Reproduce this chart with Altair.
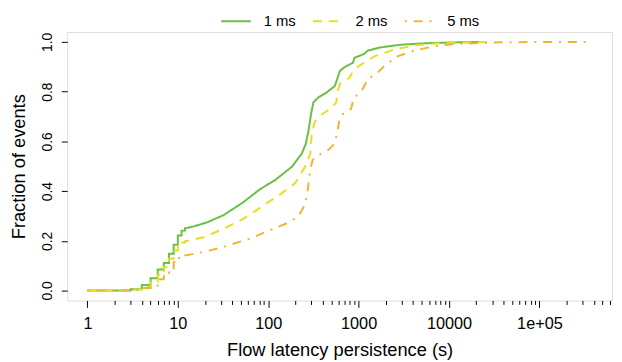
import altair as alt
import pandas as pd

# ---- data (x = flow latency persistence in s, y = CDF) ----
series_names = ["1 ms", "2 ms", "5 ms"]

x_1ms = [1, 3, 3, 4, 4, 5, 5, 6, 6, 7, 7, 8, 8, 9, 9, 10, 10, 11, 11, 12, 12,
         15, 21, 32, 52, 80, 121, 184, 236, 260, 278, 298, 316, 359, 443, 546,
         586, 620, 700, 864, 900, 1154, 1256, 1748, 2927, 5660, 11000, 22000]
y_1ms = [0.0, 0.0, 0.005, 0.005, 0.022, 0.022, 0.049, 0.049, 0.085, 0.085, 0.111,
         0.111, 0.148, 0.148, 0.184, 0.184, 0.221, 0.221, 0.241, 0.241, 0.25,
         0.258, 0.274, 0.303, 0.353, 0.406, 0.446, 0.499, 0.552, 0.59, 0.64, 0.711,
         0.757, 0.777, 0.797, 0.823, 0.856, 0.883, 0.899, 0.916, 0.936, 0.952,
         0.965, 0.978, 0.989, 0.995, 0.998, 1.0]

x_2ms = [1, 3, 3, 4, 4, 5, 5, 6, 6, 7, 7, 8, 8, 9, 9, 10, 10, 11, 11, 12, 12,
         19.2, 31.6, 52.5, 86.7, 143, 200, 256, 293, 303, 326, 376, 500, 566,
         593, 632, 794, 864, 1060, 1490, 2450, 4100, 7900, 28000]
y_2ms = [0.0, 0.0, 0.004, 0.004, 0.015, 0.015, 0.035, 0.035, 0.062, 0.062, 0.095,
         0.095, 0.128, 0.128, 0.161, 0.161, 0.18, 0.18, 0.193, 0.193, 0.198,
         0.214, 0.247, 0.287, 0.34, 0.393, 0.433, 0.499, 0.552, 0.631, 0.678,
         0.704, 0.735, 0.757, 0.81, 0.836, 0.856, 0.883, 0.909, 0.942, 0.969,
         0.986, 0.995, 1.0]

x_5ms = [1, 3, 3, 4, 4, 5, 5, 6, 6, 7, 7, 8, 8, 9, 9, 10, 10, 11, 11, 12, 12,
         19.2, 31.6, 62, 102, 169, 217, 256, 274, 290, 310, 360, 460, 545, 586,
         620, 700, 825, 885, 1060, 1154, 1256, 1617, 1990, 2700, 4100, 6700,
         11000, 30000, 100000, 380000]
y_5ms = [0.0, 0.0, 0.003, 0.003, 0.01, 0.01, 0.02, 0.02, 0.045, 0.045, 0.069,
         0.069, 0.09, 0.09, 0.115, 0.115, 0.131, 0.131, 0.138, 0.138, 0.141,
         0.155, 0.175, 0.208, 0.241, 0.274, 0.30, 0.347, 0.406, 0.48, 0.525,
         0.545, 0.565, 0.592, 0.645, 0.697, 0.717, 0.731, 0.777, 0.797, 0.823,
         0.85, 0.876, 0.909, 0.942, 0.965, 0.982, 0.991, 0.998, 1.0, 1.0]

major_ticks = [1, 10, 100, 1000, 10000, 100000]
minor_ticks = [m * 10 ** k for k in range(0, 6) for m in range(2, 10)]
y_ticks = [0.0, 0.2, 0.4, 0.6, 0.8, 1.0]

colors = ["#6abf45", "#e5df1f", "#efb534"]
dashes = [[1, 0], [9, 7], [2, 7, 9, 7]]

rows = []
for name, xs, ys in zip(series_names, [x_1ms, x_2ms, x_5ms], [y_1ms, y_2ms, y_5ms]):
    for i, (xv, yv) in enumerate(zip(xs, ys)):
        rows.append({"series": name, "x": xv, "y": yv, "i": i})
df = pd.DataFrame(rows)

FONT = "Liberation Sans"

xscale = alt.Scale(type="log", domain=[0.598, 635000], nice=False)
yscale = alt.Scale(domain=[-0.04, 1.04], nice=False, zero=False)

legend_kw = dict(title=None, orient="none", legendX=155, legendY=-27,
                 direction="horizontal", symbolType="stroke",
                 symbolSize=900, symbolStrokeWidth=2,
                 labelFont=FONT, labelFontSize=15, labelColor="black",
                 labelOffset=12, columnPadding=13, padding=0)

lines = alt.Chart(df).mark_line(strokeWidth=2).encode(
    x=alt.X("x:Q", scale=xscale,
            axis=alt.Axis(values=major_ticks, orient="bottom", domain=False, grid=False,
                          tickSize=7, tickColor="black", labelPadding=8,
                          labelFont=FONT, labelFontSize=16.5, labelColor="black",
                          labelExpr="datum.value == 100000 ? '1e+05' : format(datum.value, 'd')",
                          labelFlush=False, labelOverlap=False,
                          title="Flow latency persistence (s)", titleFont=FONT,
                          titleFontSize=18.5, titleFontWeight="normal", titleColor="black",
                          titlePadding=9)),
    y=alt.Y("y:Q", scale=yscale,
            axis=alt.Axis(values=y_ticks, domain=False, grid=False, tickSize=6,
                          tickColor="black", format=".1f", labelAngle=-90,
                          labelAlign="center", labelBaseline="bottom", labelPadding=7,
                          labelFont=FONT, labelFontSize=14, labelColor="black",
                          labelFlush=False, labelOverlap=False,
                          title="Fraction of events", titleFont=FONT, titleFontSize=18.5,
                          titleFontWeight="normal", titleColor="black", titleAngle=270,
                          titleX=-39, titleY=136, titleBaseline="bottom", titleAlign="center")),
    color=alt.Color("series:N", scale=alt.Scale(domain=series_names, range=colors),
                    legend=alt.Legend(**legend_kw)),
    strokeDash=alt.StrokeDash("series:N", scale=alt.Scale(domain=series_names, range=dashes),
                              legend=alt.Legend(**legend_kw)),
    order=alt.Order("i:Q"),
)

minor = alt.Chart(pd.DataFrame({"x": minor_ticks})).mark_point(opacity=0).encode(
    x=alt.X("x:Q", scale=xscale,
            axis=alt.Axis(values=minor_ticks, orient="bottom", domain=False, grid=False,
                          labels=False, tickSize=4, tickColor="black", title=None)),
)

chart = alt.layer(lines, minor).resolve_axis(x="independent").properties(
    width=552, height=272,
    padding={"left": 60, "top": 22, "right": 2, "bottom": 58},
    autosize=alt.AutoSizeParams(type="none"),
).configure_view(stroke="black", strokeWidth=1.2).configure(background="white")

chart.save("out.html", embed_options={"renderer": "svg", "actions": False})
